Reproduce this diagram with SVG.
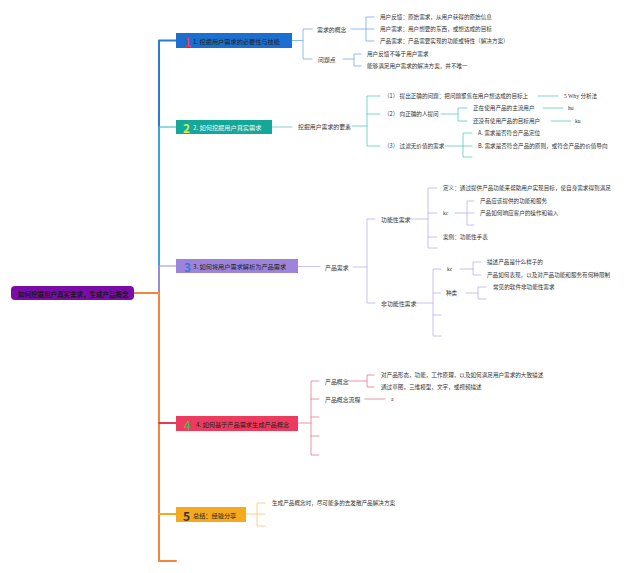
<svg xmlns="http://www.w3.org/2000/svg" width="640" height="573" viewBox="0 0 640 573">
<style>
text{font-family:"Noto Sans CJK SC","Noto Sans",sans-serif;dominant-baseline:central}
.s{font-size:5.6px;fill:#333}
.m{font-size:5.9px;fill:#333}
.t{font-size:6.2px;fill:#222}
.d{font-size:12px;font-weight:bold}
.l{font-family:"Liberation Serif",serif}
.c{fill:none;stroke-linecap:round;stroke-linejoin:round}
.c1{stroke:#82b4ea;stroke-width:0.9}
.c2{stroke:#6fcfc5;stroke-width:0.9}
.c3{stroke:#c4b8ee;stroke-width:0.9}
.c4{stroke:#ea86a0;stroke-width:0.9}
.c5{stroke:#f8c880;stroke-width:0.9}
</style>
<rect width="640" height="573" fill="#ffffff"/>
<g id="connectors">
<path class="c" d="M176,40.5 H159 V127" stroke="#2b7bd6" stroke-width="2"/>
<path class="c" d="M159,127 V266" stroke="#3aa6d8" stroke-width="2"/>
<path class="c" d="M159,266 V293" stroke="#9a88dc" stroke-width="2"/>
<path class="c" d="M159,127 H176" stroke="#2cb5b0" stroke-width="1"/>
<path class="c" d="M159,266 H176" stroke="#9a88dc" stroke-width="1"/>
<path class="c" d="M134,293 H159 V561 H176" stroke="#f7843c" stroke-width="2"/>
<path class="c" d="M159,423 H176" stroke="#e8365a" stroke-width="2"/>
<path class="c" d="M159,514 H176" stroke="#f5a91c" stroke-width="2"/>
<g class="c c1">
<path d="M292,40.5 H303"/><path d="M312,29 H303 V59 H312"/>
<path d="M351,29 H366"/><path d="M374,17 H366 V41 H374"/><path d="M366,29 H374"/>
<path d="M343,59 H354"/><path d="M361,54 H354 V66 H361"/>
</g>
<g class="c c2">
<path d="M272,127 H292"/><path d="M352,126 H367"/><path d="M380,96 H367 V146 H380"/><path d="M367,114 H380"/>
<path d="M538,96 H558"/>
<path d="M441,114 H458"/><path d="M467,108 H458 V121 H467"/>
<path d="M543,108 H563"/><path d="M551,121 H571"/>
<path d="M445,146 H463"/><path d="M472,133 H463 V157 H472"/><path d="M463,146 H472"/>
</g>
<g class="c c3">
<path d="M298,266.5 H320"/><path d="M353,267 H367"/><path d="M375,219 H367 V303 H375"/>
<path d="M409,219 H428"/><path d="M437,188 H428 V248 H437"/><path d="M428,213 H437"/><path d="M428,237 H437"/>
<path d="M455,213 H467"/><path d="M474,201 H467 V225 H474"/><path d="M467,213 H474"/>
<path d="M415,303 H433"/><path d="M441,269 H433 V336 H441"/><path d="M433,293 H441"/><path d="M433,315 H441"/>
<path d="M460,269 H473"/><path d="M481,262 H473 V275 H481"/>
<path d="M466,293 H478"/><path d="M486,287 H478 V299 H486"/>
</g>
<g class="c c4">
<path d="M298,423 H311"/><path d="M319,381 H311 V455 H319"/><path d="M311,399 H319"/><path d="M311,417 H319"/><path d="M311,436 H319"/>
<path d="M348,381 H367"/><path d="M374,375 H367 V387 H374"/>
<path d="M365,399 H385"/>
</g>
<g class="c c5">
<path d="M246,514 H265"/><path d="M265,503 H257 V526 H265"/>
</g>
</g>
<g id="root">
<rect x="11" y="286" width="123" height="14" rx="4" fill="#7a0ca8"/>
<text x="18" y="293.5" font-size="6.5" font-weight="bold" fill="#1a1a1a">如何挖掘用户真实需求，生成产品概念</text>
</g>
<g id="node1">
<rect x="176" y="33" width="116" height="15" fill="#1b6fd1"/>
<text x="184" y="41" class="d" fill="#e8364a">1</text>
<text x="193" y="41" class="t">1. 挖掘用户需求的必要性与技能</text>
</g>
<g id="n1a"><text x="317" y="29" class="m">需求的概念</text></g>
<g id="n1a1"><text x="380" y="17" class="s">用户反馈：原始需求，从用户获得的原始信息</text></g>
<g id="n1a2"><text x="380" y="29" class="s">用户需求：用户想要的东西，或想达成的目标</text></g>
<g id="n1a3"><text x="380" y="41" class="s">产品需求：产品需要实现的功能或特性（解决方案）</text></g>
<g id="n1b"><text x="318" y="59" class="m">问题点</text></g>
<g id="n1b1"><text x="367" y="54" class="s">用户反馈不等于用户需求</text></g>
<g id="n1b2"><text x="367" y="66" class="s">能够满足用户需求的解决方案，并不唯一</text></g>
<g id="node2">
<rect x="176" y="120" width="96" height="14" fill="#14a89a"/>
<text x="183" y="127.5" class="d" fill="#d8e85a">2</text>
<text x="193" y="127.5" class="t" style="fill:#f4f4f4">2. 如何挖掘用户真实需求</text>
</g>
<g id="n2a"><text x="298" y="126.5" class="m">挖掘用户需求的要素</text></g>
<g id="n2a1"><text x="384" y="96" class="s">（1） 提出正确的问题：把问题聚焦在用户想达成的目标上</text></g>
<g id="n2a1a"><text x="564" y="96" class="s"><tspan class="l">5 Why </tspan>分析法</text></g>
<g id="n2a2"><text x="384" y="114" class="s">（2） 向正确的人提问</text></g>
<g id="n2a2a"><text x="473" y="108" class="s">正在使用产品的主流用户</text></g>
<g id="n2a2a1"><text x="568" y="108" class="s l">hu</text></g>
<g id="n2a2b"><text x="473" y="121" class="s">还没有使用产品的目标用户</text></g>
<g id="n2a2b1"><text x="575" y="121" class="s l">ku</text></g>
<g id="n2a3"><text x="384" y="146" class="s">（3） 过滤无价值的需求</text></g>
<g id="n2a3a"><text x="478" y="133" class="s">A. 需求是否符合产品定位</text></g>
<g id="n2a3b"><text x="478" y="146" class="s">B. 需求是否符合产品的原则，或符合产品的价值导向</text></g>
<g id="node3">
<rect x="176" y="259" width="122" height="14" fill="#9c84dc"/>
<text x="184" y="266.5" class="d" fill="#3c78d8">3</text>
<text x="193" y="266.5" class="t">3. 如何将用户需求解析为产品需求</text>
</g>
<g id="n3a"><text x="325" y="267" class="m">产品需求</text></g>
<g id="n3a1"><text x="381" y="219" class="m">功能性需求</text></g>
<g id="n3a1a"><text x="443" y="188" class="s">定义：通过提供产品功能来帮助用户实现目标，使自身需求得到满足</text></g>
<g id="n3a1b"><text x="443" y="213" class="s l">kc</text></g>
<g id="n3a1b1"><text x="480" y="201" class="s">产品应该提供的功能和服务</text></g>
<g id="n3a1b2"><text x="480" y="213" class="s">产品如何响应客户的操作和输入</text></g>
<g id="n3a1c"><text x="443" y="237" class="s">案例：功能性手表</text></g>
<g id="n3a2"><text x="381" y="303" class="m">非功能性需求</text></g>
<g id="n3a2a"><text x="447" y="269" class="s l">kc</text></g>
<g id="n3a2a1"><text x="487" y="262" class="s">描述产品是什么样子的</text></g>
<g id="n3a2a2"><text x="487" y="275" class="s">产品如何表现，以及对产品功能和服务有何种限制</text></g>
<g id="n3a2b"><text x="446" y="293" class="s">种类</text></g>
<g id="n3a2b1"><text x="493" y="287" class="s">常见的软件非功能性需求</text></g>
<g id="node4">
<rect x="176" y="416" width="122" height="15" fill="#ec3b5e"/>
<text x="184" y="424" class="d" fill="#4caf50">4</text>
<text x="196" y="424" class="t">4. 如何基于产品需求生成产品概念</text>
</g>
<g id="n4a"><text x="325" y="381" class="m">产品概念</text></g>
<g id="n4a1"><text x="381" y="375" class="s">对产品形态，功能，工作原理，以及如何满足用户需求的大致描述</text></g>
<g id="n4a2"><text x="381" y="387" class="s">通过草图，三维模型，文字，或视频描述</text></g>
<g id="n4b"><text x="325" y="399" class="m">产品概念流程</text></g>
<g id="n4b1"><text x="391" y="399" class="s l">a</text></g>
<g id="node5">
<rect x="176" y="507" width="70" height="15" fill="#f5a91c"/>
<text x="183" y="515" class="d" fill="#333">5</text>
<text x="193" y="515" class="t">总结：经验分享</text>
</g>
<g id="n5a"><text x="272" y="503" class="s">生成产品概念时，尽可能多的去发散产品解决方案</text></g>
</svg>
